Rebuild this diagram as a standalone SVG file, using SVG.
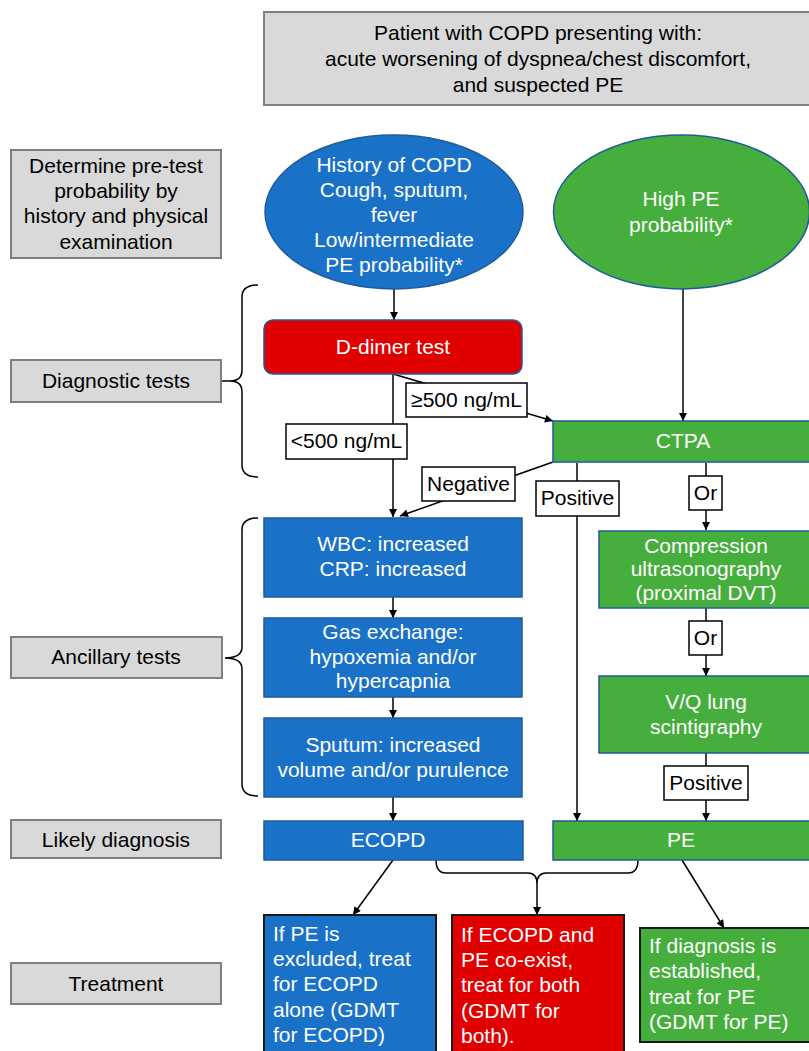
<svg xmlns="http://www.w3.org/2000/svg" width="809" height="1051" viewBox="0 0 809 1051">
<defs>
<marker id="ah" viewBox="0 0 10 10" refX="10" refY="5" markerWidth="9" markerHeight="8" markerUnits="userSpaceOnUse" orient="auto">
<path d="M0,0 L10,5 L0,10 z" fill="#000"/>
</marker>
<style>
text{font-family:"Liberation Sans",Arial,sans-serif;font-size:21px;dominant-baseline:central}
.c{text-anchor:middle}
.w{fill:#fff}
.k{fill:#000}
.gray{fill:#d9d9d9;stroke:#7f7f7f;stroke-width:2}
.blue{fill:#1a72c8;stroke:#1f5b9c;stroke-width:1.5}
.green{fill:#46ae3d;stroke:#1f5b9c;stroke-width:1.5}
.red{fill:#e00000;stroke:#1f5b9c;stroke-width:1.5}
.tb{stroke:#1a1a1a;stroke-width:2}
.lbl{fill:#fff;stroke:#000;stroke-width:1.5}
.ln{fill:none;stroke:#000;stroke-width:1.5}
.ar{fill:none;stroke:#000;stroke-width:1.5;marker-end:url(#ah)}
</style>
</defs>

<g id="connectors">
<path class="ar" d="M394,289 L394,320"/>
<path class="ar" d="M393,374 L393,517"/>
<path class="ar" d="M393,374 L553,421"/>
<path class="ar" d="M553,462 L400,516"/>
<path class="ar" d="M683,289 L683,421"/>
<path class="ar" d="M577,463 L577,821"/>
<path class="ar" d="M706,463 L706,530"/>
<path class="ar" d="M706,608 L706,676"/>
<path class="ar" d="M706,753 L706,821"/>
<path class="ar" d="M393,597 L393,618"/>
<path class="ar" d="M393,697 L393,718"/>
<path class="ar" d="M393,797 L393,821"/>
<path class="ar" d="M393,860 L353,915"/>
<path class="ar" d="M682,860 L724,928"/>
<path class="ln" d="M436,860 Q436,873 446,873 L528,873 Q537,873 537,884 Q537,873 546,873 L628,873 Q638,873 638,860"/>
<path class="ar" d="M537,884 L537,915"/>
<path class="ln" d="M258,285 Q242,285 242,297 L242,370 Q242,381 230,381 Q242,381 242,392 L242,465 Q242,477 258,477"/>
<path class="ln" d="M221,381 L230,381"/>
<path class="ln" d="M258,518 Q242,518 242,530 L242,647 Q242,658 225,658 Q242,658 242,669 L242,784 Q242,796 258,796"/>
</g>

<g id="top">
<rect class="gray" x="264" y="12" width="550" height="93"/>
<text class="c k" x="538" y="32">Patient with COPD presenting with:</text>
<text class="c k" x="538" y="58">acute worsening of dyspnea/chest discomfort,</text>
<text class="c k" x="538" y="84">and suspected PE</text>
</g>

<g id="label-pretest">
<rect class="gray" x="11" y="150" width="210" height="108"/>
<text class="c k" x="116" y="165">Determine pre-test</text>
<text class="c k" x="116" y="190">probability by</text>
<text class="c k" x="116" y="215">history and physical</text>
<text class="c k" x="116" y="241">examination</text>
</g>

<g id="ellipse-low">
<ellipse class="blue" cx="394" cy="212" rx="129" ry="77"/>
<text class="c w" x="394" y="164">History of COPD</text>
<text class="c w" x="394" y="189">Cough, sputum,</text>
<text class="c w" x="394" y="214">fever</text>
<text class="c w" x="394" y="239">Low/intermediate</text>
<text class="c w" x="394" y="264">PE probability*</text>
</g>

<g id="ellipse-high">
<ellipse class="green" cx="681.5" cy="212" rx="128" ry="77"/>
<text class="c w" x="681" y="198">High PE</text>
<text class="c w" x="681" y="224">probability*</text>
</g>

<g id="label-diag">
<rect class="gray" x="11" y="360" width="210" height="42"/>
<text class="c k" x="116" y="380">Diagnostic tests</text>
</g>

<g id="ddimer">
<rect class="red" x="264" y="320" width="258" height="54" rx="9"/>
<text class="c w" x="393" y="346">D-dimer test</text>
</g>

<g id="lbl-ge500">
<rect class="lbl" x="406" y="383" width="121" height="34"/>
<text class="c k" x="466.5" y="399">≥500 ng/mL</text>
</g>

<g id="lbl-lt500">
<rect class="lbl" x="286" y="424" width="121" height="35"/>
<text class="c k" x="346.5" y="440">&lt;500 ng/mL</text>
</g>

<g id="ctpa">
<rect class="green" x="553" y="421" width="260" height="41"/>
<text class="c w" x="683" y="440">CTPA</text>
</g>

<g id="lbl-negative">
<rect class="lbl" x="422" y="467" width="93" height="34"/>
<text class="c k" x="468.5" y="483">Negative</text>
</g>

<g id="lbl-positive1">
<rect class="lbl" x="536" y="481" width="83" height="35"/>
<text class="c k" x="577.5" y="497">Positive</text>
</g>

<g id="lbl-or1">
<rect class="lbl" x="689" y="476" width="33" height="34"/>
<text class="c k" x="705.5" y="492">Or</text>
</g>

<g id="compression">
<rect class="green" x="599" y="531" width="214" height="77"/>
<text class="c w" x="706" y="545">Compression</text>
<text class="c w" x="706" y="568">ultrasonography</text>
<text class="c w" x="706" y="592">(proximal DVT)</text>
</g>

<g id="lbl-or2">
<rect class="lbl" x="689" y="621" width="33" height="34"/>
<text class="c k" x="705.5" y="637">Or</text>
</g>

<g id="vq">
<rect class="green" x="599" y="676" width="214" height="77"/>
<text class="c w" x="706" y="701">V/Q lung</text>
<text class="c w" x="706" y="726">scintigraphy</text>
</g>

<g id="lbl-positive2">
<rect class="lbl" x="664" y="766" width="84" height="34"/>
<text class="c k" x="706" y="782">Positive</text>
</g>

<g id="label-anc">
<rect class="gray" x="11" y="637" width="211" height="41"/>
<text class="c k" x="116" y="656">Ancillary tests</text>
</g>

<g id="wbc">
<rect class="blue" x="264" y="518" width="258" height="79"/>
<text class="c w" x="393" y="543">WBC: increased</text>
<text class="c w" x="393" y="568">CRP: increased</text>
</g>

<g id="gas">
<rect class="blue" x="264" y="618" width="258" height="79"/>
<text class="c w" x="393" y="631">Gas exchange:</text>
<text class="c w" x="393" y="656">hypoxemia and/or</text>
<text class="c w" x="393" y="680">hypercapnia</text>
</g>

<g id="sputum">
<rect class="blue" x="264" y="718" width="258" height="79"/>
<text class="c w" x="393" y="744">Sputum: increased</text>
<text class="c w" x="393" y="769">volume and/or purulence</text>
</g>

<g id="label-likely">
<rect class="gray" x="11" y="820" width="210" height="38"/>
<text class="c k" x="116" y="839">Likely diagnosis</text>
</g>

<g id="ecopd">
<rect class="blue" x="264" y="821" width="259" height="39"/>
<text class="c w" x="388" y="839">ECOPD</text>
</g>

<g id="pe">
<rect class="green" x="553" y="821" width="260" height="39"/>
<text class="c w" x="681" y="839">PE</text>
</g>

<g id="label-treat">
<rect class="gray" x="11" y="963" width="210" height="41"/>
<text class="c k" x="116" y="983">Treatment</text>
</g>

<g id="treat-ecopd">
<rect class="blue tb" x="264" y="915" width="172" height="145"/>
<text class="w" x="273" y="933">If PE is</text>
<text class="w" x="273" y="958">excluded, treat</text>
<text class="w" x="273" y="983">for ECOPD</text>
<text class="w" x="273" y="1009">alone (GDMT</text>
<text class="w" x="273" y="1034">for ECOPD)</text>
</g>

<g id="treat-both">
<rect class="red tb" x="452" y="915" width="172" height="145"/>
<text class="w" x="461" y="934">If ECOPD and</text>
<text class="w" x="461" y="959">PE co-exist,</text>
<text class="w" x="461" y="984">treat for both</text>
<text class="w" x="461" y="1010">(GDMT for</text>
<text class="w" x="461" y="1035">both).</text>
</g>

<g id="treat-pe">
<rect class="green tb" x="640" y="928" width="173" height="114"/>
<text class="w" x="649" y="945">If diagnosis is</text>
<text class="w" x="649" y="970">established,</text>
<text class="w" x="649" y="996">treat for PE</text>
<text class="w" x="649" y="1021">(GDMT for PE)</text>
</g>
</svg>
